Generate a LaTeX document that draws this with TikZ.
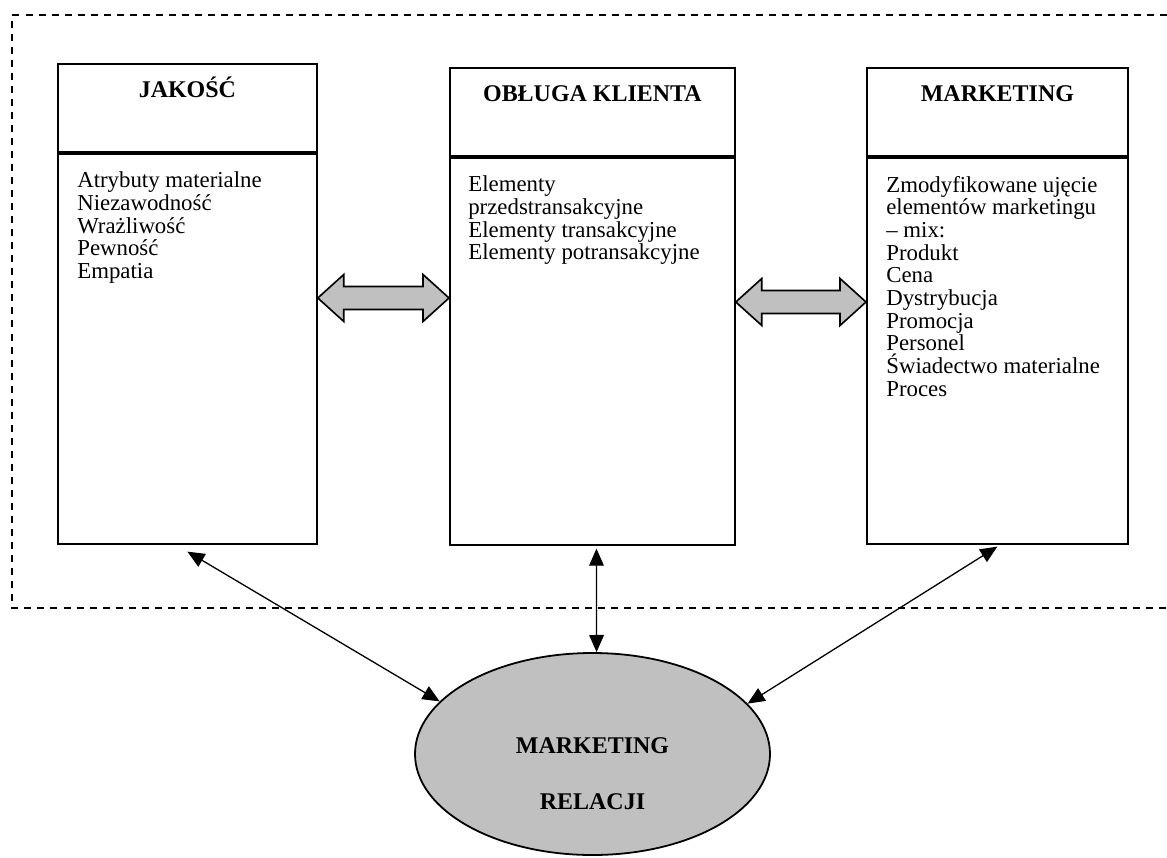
\documentclass[tikz,border=0pt]{standalone}
\usepackage{fontspec}
\setmainfont{Liberation Serif}
\usetikzlibrary{arrows.meta,calc,positioning,shapes.geometric}
\definecolor{silver}{HTML}{C0C0C0}
\newcommand{\px}{0.6135pt}
% block double arrow between two boxes at height #3
\newcommand{\dblarrow}[3]{%
  \draw[bigarrow] (#1.east |- 0,#3) -- ++(26,-23.5) -- ++(0,12)
    -- ($(#2.west |- 0,#3)+(-26,-11.5)$) -- ++(0,-12) -- (#2.west |- 0,#3)
    -- ++(-26,23.5) -- ++(0,-12) -- ($(#1.east |- 0,#3)+(26,11.5)$)
    -- ++(0,12) -- cycle;}

\begin{document}
\begin{tikzpicture}[x=\px,y=-\px,
  headbox/.style={draw,line width=1.1pt,anchor=north west,inner xsep=0pt,inner ysep=0pt,
    text height=20.9pt,text depth=33.1pt,font=\fontsize{14.7}{16}\selectfont\bfseries},
  bodybox/.style={draw,line width=1.1pt,anchor=north west,inner sep=0pt},
  bodytext/.style={anchor=north west,inner sep=0pt,align=left,font=\fontsize{14}{13.9}\selectfont},
  link/.style={line width=0.8pt,{Triangle[length=10.5pt,width=9pt]}-{Triangle[length=10.5pt,width=9pt]}},
  bigarrow/.style={line width=1pt,draw,fill=silver,line join=miter}]

\useasboundingbox (0,0) rectangle (1167,857);

% Dashed frame
\draw[line width=0.8pt,dash pattern=on 4.3pt off 3.7pt] (1167,15) -- (12,15) -- (12,608) -- (1167,608);

% Jakosc
\node[headbox,minimum width=259*\px] (jak) at (57,63) {JAKOŚĆ};
\node[bodybox,minimum width=259*\px,minimum height=390*\px] (jakb) at (jak.south west) {};
\node[bodytext] (jakt) at ([shift={(20,19)}]jakb.north west)
  {Atrybuty materialne\\Niezawodność\\Wrażliwość\\Pewność\\Empatia};

% Obsluga klienta
\node[headbox,minimum width=285*\px] (obs) at (449,67) {OBŁUGA KLIENTA};
\node[bodybox,minimum width=285*\px,minimum height=387*\px] (obsb) at (obs.south west) {};
\node[bodytext] (obst) at ([shift={(19,19)}]obsb.north west)
  {Elementy\\przedstransakcyjne\\Elementy transakcyjne\\Elementy potransakcyjne};

% Marketing
\node[headbox,minimum width=261*\px] (mk) at (866,67) {MARKETING};
\node[bodybox,minimum width=261*\px,minimum height=386*\px] (mkb) at (mk.south west) {};
\node[bodytext] (mkt) at ([shift={(20,19)}]mkb.north west)
  {Zmodyfikowane ujęcie\\elementów marketingu\\– mix:\\Produkt\\Cena\\Dystrybucja\\Promocja\\Personel\\Świadectwo materialne\\Proces};

% Block arrows
\dblarrow{jakb}{obsb}{298}
\dblarrow{obsb}{mkb}{302}

% Marketing relacji
\node[ellipse,draw,line width=1.1pt,fill=silver,minimum width=355*\px,minimum height=202*\px,inner sep=0pt] (rel) at (592.5,754) {};
\node[align=center,font=\fontsize{14.7}{34.4}\selectfont\bfseries] (relt) at ([yshift=-12pt]rel.center) {MARKETING\\RELACJI};

% Links
\draw[link] (rel.161) -- ([yshift=-7*\px]jakb.south);
\draw[link] ([xshift=2.5pt]rel.north) -- ([xshift=2.5pt,yshift=-3*\px]obsb.south);
\draw[link] (rel.18) -- ([yshift=-2*\px]mkb.south);
\end{tikzpicture}
\end{document}
